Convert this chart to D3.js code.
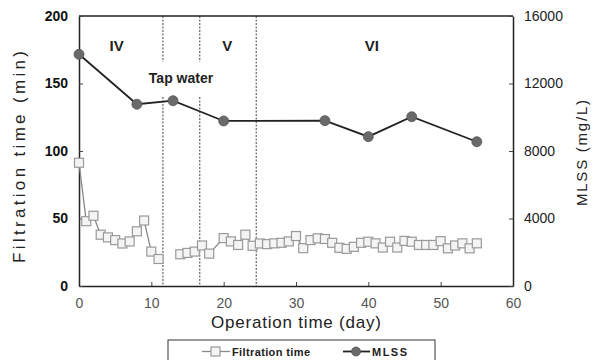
<!DOCTYPE html>
<html><head><meta charset="utf-8">
<script src="https://cdn.jsdelivr.net/npm/d3@7"></script>
<style>body{margin:0;background:#fff}svg{display:block}text{font-family:"Liberation Sans",Arial,sans-serif}</style>
</head><body><svg id="c" width="599" height="360"></svg>
<script>
const filtDays = [0,1,2,3,4,5,6,7,8,9,10,11,null,14,15,16,17,18,20,21,22,23,24,25,26,27,28,29,30,31,32,33,34,35,36,37,38,39,40,41,42,43,44,45,46,47,48,49,50,51,52,53,54,55];
const filtValues = [91.3,48,52,38,36,34,31.5,33,40.5,48.5,25.5,20,null,23.5,24.5,25.5,30,24,35.5,33,30.4,38,29.8,31.5,31,31.6,32,33,37,28,34,35.3,34.8,32,28.3,27.5,29,32,32.8,31.6,28.5,32.8,28.5,33.4,32.8,30.4,30.4,30.4,33.2,27.9,30,31.6,27.9,31.6];
const mlssDays = [0,8,13,20,34,40,46,55];
const mlssValues = [13730,10770,10980,9780,9800,8850,10030,8550];
const phaseBounds = [11.6,16.7,24.5];
const phaseLabels = [{t:"IV",d:5.2},{t:"V",d:20.5},{t:"VI",d:40.5}];
const xTicks = [0,10,20,30,40,50,60];
const yLTicks = [0,50,100,150,200];
const yRTicks = [0,4000,8000,12000,16000];

const svg = d3.select("#c");
const x = d3.scaleLinear().domain([0,60]).range([79,513]);
const yL = d3.scaleLinear().domain([0,200]).range([286,16]);
const yR = d3.scaleLinear().domain([0,16000]).range([286,16]);

// phase lines
phaseBounds.forEach((b,i)=>{
  const px = x(b);
  const segs = i<2 ? [[16,62],[97,286]] : [[16,286]];
  segs.forEach(s=>svg.append("line").attr("x1",px).attr("x2",px).attr("y1",s[0]).attr("y2",s[1])
    .attr("stroke","#444").attr("stroke-width",1).attr("stroke-dasharray","2,1.5"));
});

// frame
svg.append("line").attr("x1",79).attr("x2",513).attr("y1",16).attr("y2",16).attr("stroke","#222").attr("stroke-width",1.5);

// axes
const gB = svg.append("g").attr("transform","translate(0,286)").call(d3.axisBottom(x).tickValues(xTicks).tickSizeInner(-4).tickSizeOuter(0).tickPadding(12));
const gL = svg.append("g").attr("transform","translate(79,0)").call(d3.axisLeft(yL).tickValues(yLTicks).tickSizeInner(-4).tickSizeOuter(0).tickPadding(11));
const gR = svg.append("g").attr("transform","translate(513,0)").call(d3.axisRight(yR).tickValues(yRTicks).tickFormat(d3.format("d")).tickSizeInner(-4).tickSizeOuter(0).tickPadding(11));
[gB,gL,gR].forEach(g=>{
  g.select(".domain").attr("stroke","#222").attr("stroke-width",1.5);
  g.selectAll(".tick line").attr("stroke","#444");
  g.selectAll("text").attr("font-family","'Liberation Sans',Arial,sans-serif").attr("font-size",14);
});
gB.selectAll("text").attr("fill","#555").attr("font-size",14);
gL.selectAll("text").attr("fill","#111").attr("font-weight","bold");
gR.selectAll("text").attr("fill","#222");

// filtration line
const filt = filtDays.map((d,i)=>({d, v:filtValues[i]}));
svg.append("path").datum(filt)
  .attr("d", d3.line().defined(p=>p.d!==null && p.v!==null).x(p=>x(p.d)).y(p=>yL(p.v)))
  .attr("fill","none").attr("stroke","#888").attr("stroke-width",1.3);
svg.selectAll("rect.f").data(filt.filter(p=>p.d!==null)).join("rect").attr("class","f")
  .attr("x",p=>x(p.d)-4.5).attr("y",p=>yL(p.v)-4.5).attr("width",9).attr("height",9)
  .attr("fill","#f4f4f4").attr("stroke","#999").attr("stroke-width",1.2);

// MLSS
const ml = mlssDays.map((d,i)=>({d, v:mlssValues[i]}));
svg.append("path").datum(ml).attr("d", d3.line().x(p=>x(p.d)).y(p=>yR(p.v)))
  .attr("fill","none").attr("stroke","#222").attr("stroke-width",1.8);
svg.selectAll("circle.m").data(ml).join("circle").attr("class","m")
  .attr("cx",p=>x(p.d)).attr("cy",p=>yR(p.v)).attr("r",5)
  .attr("fill","#6a6a6a").attr("stroke","#555").attr("stroke-width",0.8);

// phase labels
phaseLabels.forEach(p=>{
  svg.append("text").attr("x",x(p.d)).attr("y",51).attr("text-anchor","middle")
    .attr("font-size",15).attr("font-weight","bold").attr("fill","#222").text(p.t);
});
svg.append("text").attr("x",181).attr("y",83).attr("text-anchor","middle")
  .attr("font-size",14).attr("font-weight","bold").attr("fill","#222").text("Tap water");

// axis titles
svg.append("text").attr("x",296).attr("y",328).attr("text-anchor","middle")
  .attr("font-size",17).attr("fill","#222").attr("textLength",170).attr("lengthAdjust","spacing").text("Operation time (day)");
svg.append("text").attr("transform","translate(25,157) rotate(-90)").attr("text-anchor","middle")
  .attr("font-size",17).attr("fill","#222").attr("textLength",212).attr("lengthAdjust","spacing").text("Filtration  time (min)");
svg.append("text").attr("transform","translate(587,153) rotate(-90)").attr("text-anchor","middle")
  .attr("font-size",15).attr("fill","#222").attr("textLength",106).attr("lengthAdjust","spacing").text("MLSS (mg/L)");

// legend
svg.append("rect").attr("x",168).attr("y",340).attr("width",267).attr("height",30)
  .attr("fill","#fff").attr("stroke","#333").attr("stroke-width",1);
svg.append("line").attr("x1",202).attr("x2",230).attr("y1",351.5).attr("y2",351.5).attr("stroke","#888").attr("stroke-width",1.3);
svg.append("rect").attr("x",211).attr("y",347).attr("width",9).attr("height",9).attr("fill","#f4f4f4").attr("stroke","#999").attr("stroke-width",1.2);
svg.append("text").attr("x",232).attr("y",356).attr("font-size",11).attr("font-weight","bold").attr("fill","#222").attr("textLength",78).attr("lengthAdjust","spacing").text("Filtration time");
svg.append("line").attr("x1",343).attr("x2",370).attr("y1",351.5).attr("y2",351.5).attr("stroke","#222").attr("stroke-width",1.8);
svg.append("circle").attr("cx",356).attr("cy",351.5).attr("r",4.5).attr("fill","#6a6a6a").attr("stroke","#555").attr("stroke-width",0.8);
svg.append("text").attr("x",372).attr("y",356).attr("font-size",11).attr("font-weight","bold").attr("fill","#222").attr("textLength",35).attr("lengthAdjust","spacing").text("MLSS");
</script></body></html>
